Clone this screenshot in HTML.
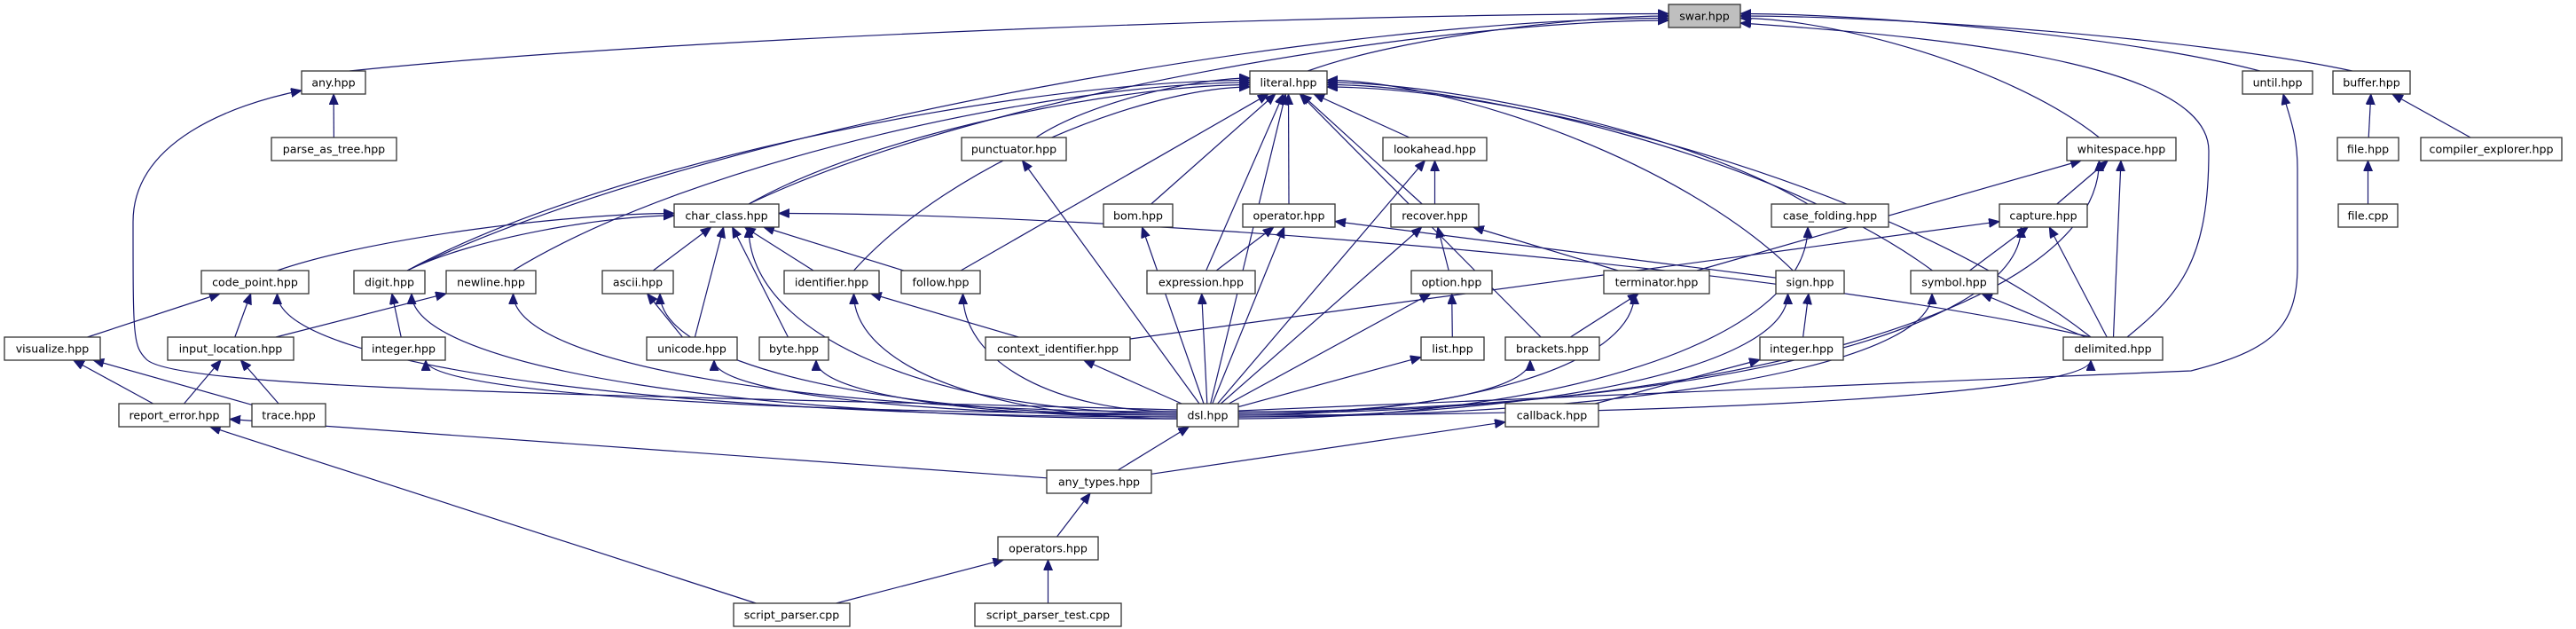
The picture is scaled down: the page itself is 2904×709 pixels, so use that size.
<!DOCTYPE html>
<html><head><meta charset="utf-8">
<style>
html,body{margin:0;padding:0;background:#fff;}
svg{display:block;}
text{font-family:"DejaVu Sans","Liberation Sans",sans-serif;font-size:12.6px;fill:#000;}
</style></head>
<body>
<svg id="g" xmlns="http://www.w3.org/2000/svg" width="2904" height="709" viewBox="0 0 2904 709">
<defs>
<marker id="ah" markerUnits="userSpaceOnUse" markerWidth="14" markerHeight="12" refX="12" refY="5" orient="auto">
<polygon points="0,0 12,5 0,10" fill="#191970" stroke="#191970"/>
</marker>
</defs>
<g id="edges" fill="none" stroke="#191970" stroke-width="1.2"></g>
<g id="nodes"></g>
</svg>
<script>
var rows=[18,93,168,243,318,393,468,543,618,693];
var N={
swar:["swar.hpp",1881,1962,0],
any:["any.hpp",340,412,1],literal:["literal.hpp",1409,1496,1],until:["until.hpp",2528,2607,1],buffer:["buffer.hpp",2630,2717,1],
parse:["parse_as_tree.hpp",306,447,2],punct:["punctuator.hpp",1084,1202,2],lookahead:["lookahead.hpp",1559,1676,2],whitespace:["whitespace.hpp",2330,2453,2],file:["file.hpp",2635,2704,2],ce:["compiler_explorer.hpp",2729,2888,2],
char:["char_class.hpp",760,878,3],bom:["bom.hpp",1244,1322,3],operator:["operator.hpp",1401,1505,3],recover:["recover.hpp",1568,1667,3],case:["case_folding.hpp",1997,2129,3],capture:["capture.hpp",2254,2353,3],filecpp:["file.cpp",2636,2703,3],
cp:["code_point.hpp",227,348,4],digit:["digit.hpp",399,479,4],newline:["newline.hpp",503,604,4],ascii:["ascii.hpp",679,759,4],ident:["identifier.hpp",884,991,4],follow:["follow.hpp",1016,1105,4],expr:["expression.hpp",1293,1415,4],option:["option.hpp",1591,1682,4],term:["terminator.hpp",1808,1927,4],sign:["sign.hpp",2002,2079,4],symbol:["symbol.hpp",2154,2252,4],
vis:["visualize.hpp",5,113,5],il:["input_location.hpp",189,331,5],integer:["integer.hpp",408,502,5],unicode:["unicode.hpp",729,831,5],byte:["byte.hpp",856,934,5],ctx:["context_identifier.hpp",1111,1274,5],list:["list.hpp",1602,1673,5],brackets:["brackets.hpp",1697,1803,5],int2:["integer.hpp",1984,2078,5],delim:["delimited.hpp",2326,2438,5],
re:["report_error.hpp",134,259,6],trace:["trace.hpp",284,367,6],dsl:["dsl.hpp",1327,1396,6],callback:["callback.hpp",1697,1802,6],
anyt:["any_types.hpp",1180,1298,7],ops:["operators.hpp",1125,1238,8],sp:["script_parser.cpp",827,958,9],spt:["script_parser_test.cpp",1099,1264,9]
};
var E=[
["any","swar"],["literal","swar"],["digit","swar"],["char","swar"],["until","swar"],["buffer","swar"],["whitespace","swar"],
["parse","any"],
["cp","char"],["digit","char"],["digit","literal"],["newline","literal"],["char","literal"],["ident","literal"],["follow","literal"],["punct","literal"],["bom","literal"],["dsl","literal"],["expr","literal"],["operator","literal"],["lookahead","literal"],["recover","literal"],["brackets","literal"],["sign","literal"],["case","literal"],["symbol","literal"],["delim","literal"],
["ascii","char"],["unicode","char"],["byte","char"],["ident","char"],["follow","char"],["dsl","char"],["delim","char"],
["unicode","ascii"],["dsl","ascii"],["vis","cp"],["il","cp"],["dsl","cp"],["integer","digit"],["dsl","digit"],["il","newline"],["dsl","newline"],
["re","vis"],["trace","vis"],["re","il"],["trace","il"],["dsl","integer"],["dsl","unicode"],["dsl","byte"],["ctx","ident"],["dsl","ident"],["dsl","follow"],["dsl","punct"],["dsl","bom"],["dsl","ctx"],["dsl","expr"],["expr","operator"],["dsl","operator"],["ctx","capture"],
["dsl","recover"],["option","recover"],["term","recover"],["recover","lookahead"],["dsl","lookahead"],["list","option"],["dsl","option"],["dsl","list"],["dsl","brackets"],["brackets","term"],["dsl","term"],["int2","sign"],["dsl","sign"],["term","whitespace"],["sign","operator"],["callback","int2"],["anyt","callback"],["dsl","case"],["anyt","dsl"],["ops","anyt"],["sp","ops"],["spt","ops"],["sp","re"],["anyt","re"],
["capture","whitespace"],["symbol","capture"],["delim","capture"],["dsl","capture"],["delim","whitespace"],["dsl","whitespace"],["dsl","delim"],["delim","symbol"],["dsl","symbol"],["file","buffer"],["ce","buffer"],["filecpp","file"]
];
function R(k){var n=N[k];var c=rows[n[3]];return {x1:n[1],x2:n[2],y1:c-13,y2:c+13,cx:(n[1]+n[2])/2,cy:c};}
function clip(r,dx,dy){var hw=(r.x2-r.x1)/2,hh=13;var t=1e9;if(dx!==0)t=Math.min(t,hw/Math.abs(dx));if(dy!==0)t=Math.min(t,hh/Math.abs(dy));return [r.cx+dx*t,r.cy+dy*t];}
var eg=document.getElementById("edges"),ng=document.getElementById("nodes"),NS="http://www.w3.org/2000/svg";
function path(d){var p=document.createElementNS(NS,"path");p.setAttribute("d",d);p.setAttribute("marker-end","url(#ah)");eg.appendChild(p);}
function f(v){return v.toFixed(1);}
var sideCount={};var dslCount=0;
var sideTargets={literal:1,swar:1,char:1};
E.forEach(function(e){var a=R(e[0]),b=R(e[1]);var dx=b.cx-a.cx,dy=b.cy-a.cy;
 if(e[0]==="dsl" && Math.abs(dx)>300 && dy<0){
  dslCount++;
  var sx=dx<0?a.x1:a.x2, sy=a.cy+((dslCount%5)-2)*2;
  var tx=b.cx+(dx<0?Math.min(25,(b.x2-b.x1)/3):-Math.min(25,(b.x2-b.x1)/3)), ty=b.y2;
  path("M"+f(sx)+","+f(sy)+" C"+f(sx+(tx-sx)*0.55)+","+f(sy)+" "+f(tx)+","+f(ty+(sy-ty)*0.6)+" "+f(tx)+","+f(ty));
  return;
 }
 if(sideTargets[e[1]] && Math.abs(dx)>250 && dy<=-75 && Math.abs(dx)>2*Math.abs(dy)){
  var key=e[1]+(dx>0?"L":"R");sideCount[key]=(sideCount[key]||0)+1;var off=(sideCount[key]%5-2)*2.5;
  var sx=a.cx+Math.sign(dx)*Math.min(25,(a.x2-a.x1)/4), sy=a.y1;
  var tx=dx>0?b.x1:b.x2, ty=b.cy+off;
  path("M"+f(sx)+","+f(sy)+" C"+f(sx+(tx-sx)*0.25)+","+f(sy+(ty-sy)*0.6)+" "+f(tx-(tx-sx)*0.25)+","+f(ty)+" "+f(tx)+","+f(ty));
  return;
 }
 var s=clip(a,dx,dy),t=clip(b,-dx,-dy);
 path("M"+f(s[0])+","+f(s[1])+" L"+f(t[0])+","+f(t[1]));});
// long curved edges
path("M1327,462 C700,445 200,440 165,405 C150,390 150,380 150,250 C150,160 260,118 340,102");
path("M2398,380 C2460,330 2490,290 2490,170 C2490,80 2250,45 1962,26");
path("M1396,463 C1800,445 2380,425 2470,418 C2560,395 2590,370 2590,300 L2590,190 C2590,150 2580,130 2574,106");
for(var k in N){var n=N[k],c=rows[n[3]];var r=document.createElementNS(NS,"rect");
r.setAttribute("x",n[1]);r.setAttribute("y",c-13);r.setAttribute("width",n[2]-n[1]);r.setAttribute("height",26);
r.setAttribute("fill",k==="swar"?"#bfbfbf":"#fff");r.setAttribute("stroke","#333");r.setAttribute("stroke-width","1.3");ng.appendChild(r);
var t=document.createElementNS(NS,"text");t.setAttribute("x",(n[1]+n[2])/2);t.setAttribute("y",c+4.5);t.setAttribute("text-anchor","middle");t.textContent=n[0];ng.appendChild(t);}
</script>
</body></html>
